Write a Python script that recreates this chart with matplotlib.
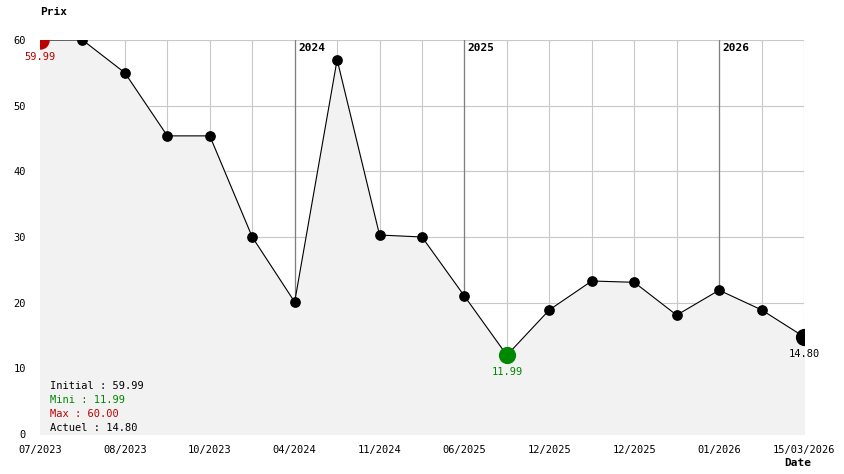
import matplotlib
matplotlib.use('Agg')
import matplotlib.pyplot as plt

prices = [59.99, 60.0, 55.0, 45.4, 45.4, 30.0, 20.1, 57.0, 30.3, 30.0, 21.0, 11.99,
          18.9, 23.3, 23.1, 18.1, 21.9, 18.9, 14.80]
tick_labels = {0: '07/2023', 2: '08/2023', 4: '10/2023', 6: '04/2024', 8: '11/2024',
               10: '06/2025', 12: '12/2025', 14: '12/2025', 16: '01/2026', 18: '15/03/2026'}
year_marks = {6: '2024', 10: '2025', 16: '2026'}

plt.rcParams['font.family'] = 'DejaVu Sans Mono'
W, H = 844, 474
fig = plt.figure(figsize=(W / 100, H / 100), dpi=100)
ax = fig.add_axes([40 / W, 1 - 434 / H, (804 - 40) / W, (434 - 40) / H])
x = list(range(len(prices)))

ax.set_xlim(0, len(prices) - 1)
ax.set_ylim(0, 60)
for s in ax.spines.values():
    s.set_visible(False)
for xi in x:
    ax.axvline(xi, color='#c8c8c8', lw=0.8, zorder=0)
for yv in range(10, 61, 10):
    ax.axhline(yv, color='#c8c8c8', lw=0.8, zorder=0)
for xi, yr in year_marks.items():
    ax.axvline(xi, color='#808080', lw=0.9, zorder=1)
    ax.text(xi + 0.08, 59.5, yr, fontsize=8, fontweight='bold', va='top', ha='left')

ax.fill_between(x, prices, 0, color='#f2f2f2', zorder=1)
ax.plot(x, prices, color='black', lw=0.8, zorder=2)
ax.scatter(x[1:-1], prices[1:-1], s=45, color='black', zorder=3)
imin = prices.index(min(prices))
ax.scatter([0], [prices[0]], s=150, color='#bb0000', zorder=4)
ax.scatter([imin], [prices[imin]], s=130, color='#008800', zorder=4)
ax.scatter([x[-1]], [prices[-1]], s=130, color='black', zorder=4)
ax.text(0, prices[0] - 1.8, f'{prices[0]:.2f}', color='#bb0000', fontsize=7.5, ha='center', va='top')
ax.text(imin, prices[imin] - 1.8, f'{prices[imin]:.2f}', color='#008800', fontsize=7.5, ha='center', va='top')
ax.text(x[-1], prices[-1] - 1.8, f'{prices[-1]:.2f}', color='black', fontsize=7.5, ha='center', va='top')

ax.set_yticks(range(0, 61, 10))
ax.set_xticks(list(tick_labels.keys()))
ax.set_xticklabels(list(tick_labels.values()))
ax.tick_params(length=0, labelsize=7.5, pad=8)
ax.tick_params(axis='y', pad=10)

stats = [('Initial : %.2f' % prices[0], 'black'), ('Mini : %.2f' % min(prices), '#008800'),
         ('Max : %.2f' % max(prices), '#bb0000'), ('Actuel : %.2f' % prices[-1], 'black')]
for i, (t, c) in enumerate(stats):
    fig.text(50 / W, 1 - (386 + i * 14) / H, t, color=c, fontsize=7.5, va='center')

fig.text(40 / W, 1 - 12 / H, 'Prix', fontsize=8, fontweight='bold', va='center')
fig.text(784 / W, 1 - 463 / H, 'Date', fontsize=8, fontweight='bold', va='center')
fig.savefig('out.png', dpi=100, facecolor='white')
